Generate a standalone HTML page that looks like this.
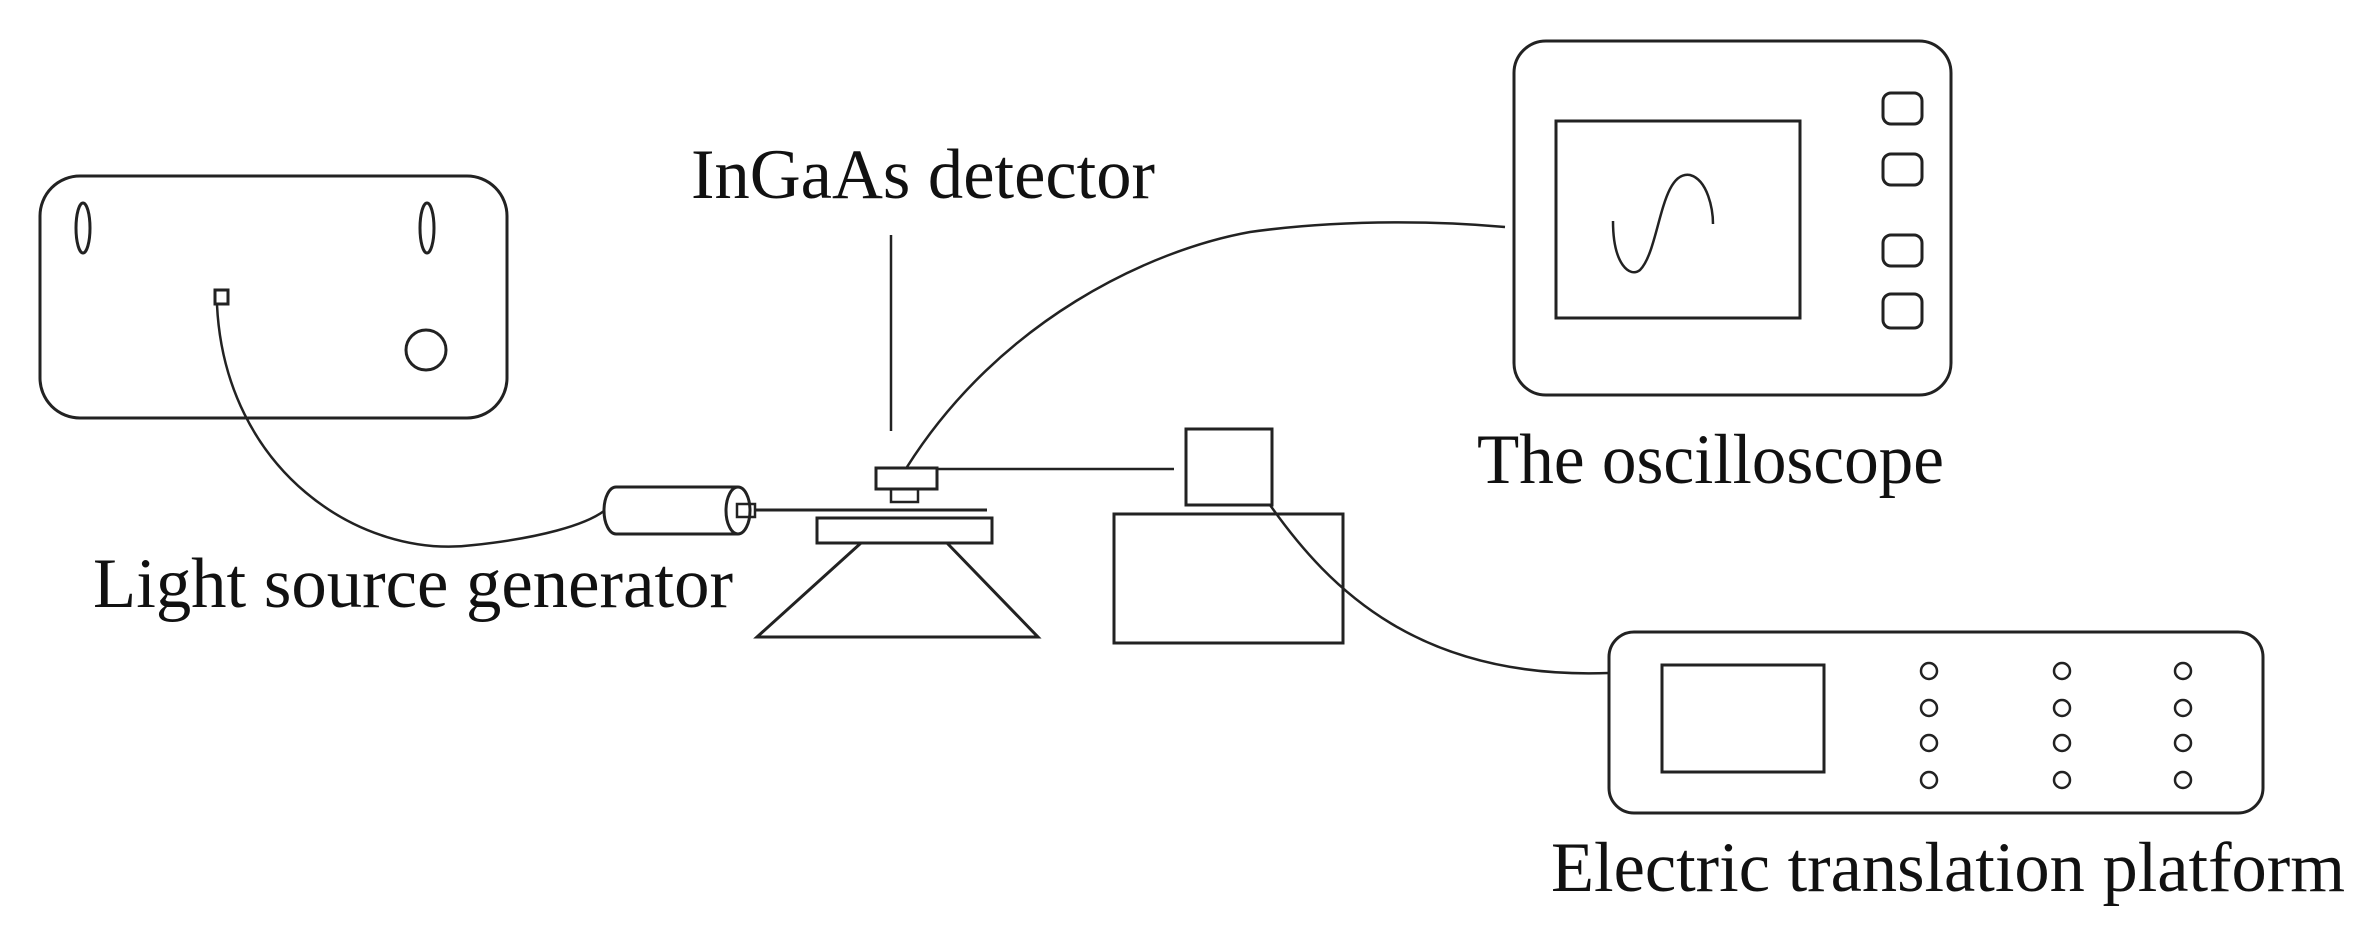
<!DOCTYPE html>
<html><head><meta charset="utf-8"><style>html,body{margin:0;padding:0;background:#fff}svg{display:block}</style></head>
<body>
<svg width="2371" height="938" viewBox="0 0 2371 938" xmlns="http://www.w3.org/2000/svg">
<g fill="none" stroke="#222" stroke-width="3">
<!-- light source box -->
<rect x="40" y="176" width="467" height="242" rx="40"/>
<ellipse cx="83" cy="228" rx="7" ry="25"/>
<ellipse cx="427" cy="228" rx="7" ry="25"/>
<circle cx="426" cy="350" r="20"/>
<rect x="215" y="290" width="13" height="14"/>
<path d="M217 305 C 225 470, 360 560, 474 545 C 540 538, 585 525, 604 511" stroke-width="2.5"/>
<!-- cylinder -->
<path d="M738 487 L616 487 A12 23.5 0 0 0 616 534 L738 534"/>
<ellipse cx="738" cy="510.5" rx="12" ry="23.5"/>
<rect x="737" y="504" width="18" height="13" stroke-width="2.5"/>
<line x1="755" y1="510" x2="987" y2="510"/>
<!-- detector -->
<line x1="891" y1="235" x2="891" y2="431" stroke-width="2.5"/>
<rect x="876" y="468" width="61" height="21"/>
<rect x="891" y="489" width="27" height="13" stroke-width="2.5"/>
<line x1="937" y1="469" x2="1174" y2="469" stroke-width="2.5"/>
<rect x="817" y="518" width="175" height="25"/>
<path d="M861 543 L757 637 L1038 637 L947 543"/>
<path d="M907 467 C 1000 320, 1150 250, 1250 232 C 1350 218, 1450 222, 1505 227" stroke-width="2.5"/>
<!-- stage -->
<rect x="1186" y="429" width="86" height="76"/>
<rect x="1114" y="514" width="229" height="129"/>
<path d="M1270 505 C 1330 590, 1420 680, 1609 673" stroke-width="2.5"/>
<!-- oscilloscope -->
<rect x="1514" y="41" width="437" height="354" rx="32"/>
<rect x="1556" y="121" width="244" height="197"/>
<path d="M1613 221 C 1613 265, 1630 278, 1640 270 C 1660 250, 1660 170, 1690 175 C 1708 180, 1713 210, 1713 224" stroke-width="2.5"/>
<rect x="1883" y="93" width="39" height="31" rx="8"/>
<rect x="1883" y="154" width="39" height="31" rx="8"/>
<rect x="1883" y="235" width="39" height="31" rx="8"/>
<rect x="1883" y="294" width="39" height="34" rx="8"/>
<!-- electric translation platform -->
<rect x="1609" y="632" width="654" height="181" rx="25"/>
<rect x="1662" y="665" width="162" height="107"/>
<g stroke-width="2.5">
<ellipse cx="1929" cy="671" rx="8" ry="8"/><ellipse cx="1929" cy="708" rx="8" ry="8"/><ellipse cx="1929" cy="743" rx="8" ry="8"/><ellipse cx="1929" cy="780" rx="8" ry="8"/>
<ellipse cx="2062" cy="671" rx="8" ry="8"/><ellipse cx="2062" cy="708" rx="8" ry="8"/><ellipse cx="2062" cy="743" rx="8" ry="8"/><ellipse cx="2062" cy="780" rx="8" ry="8"/>
<ellipse cx="2183" cy="671" rx="8" ry="8"/><ellipse cx="2183" cy="708" rx="8" ry="8"/><ellipse cx="2183" cy="743" rx="8" ry="8"/><ellipse cx="2183" cy="780" rx="8" ry="8"/>
</g>
</g>
<g font-family="Liberation Serif, serif" font-size="71" fill="#111">
<text x="691" y="198" textLength="464" lengthAdjust="spacingAndGlyphs">InGaAs detector</text>
<text x="93" y="607" textLength="640" lengthAdjust="spacingAndGlyphs">Light source generator</text>
<text x="1477" y="483" textLength="467" lengthAdjust="spacingAndGlyphs">The oscilloscope</text>
<text x="1551" y="891" textLength="794" lengthAdjust="spacingAndGlyphs">Electric translation platform</text>
</g>
</svg>
</body></html>
